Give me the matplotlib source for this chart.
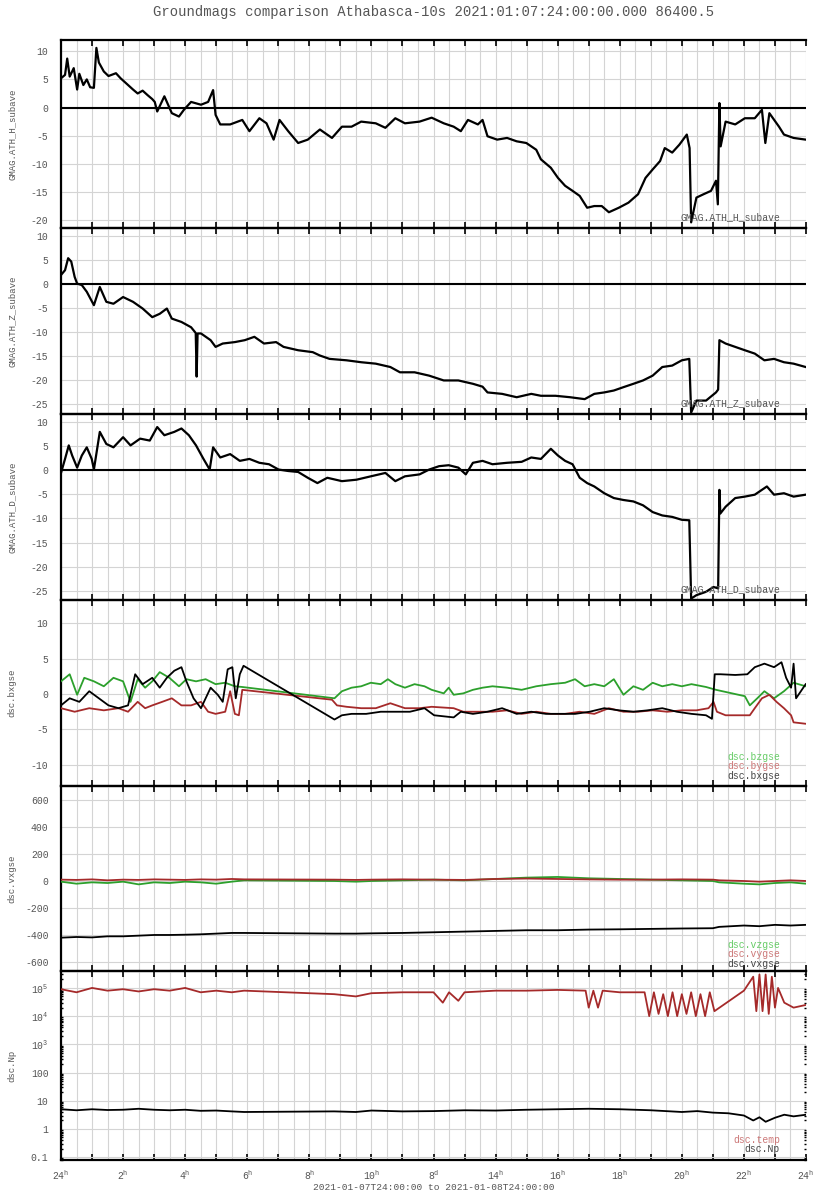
import matplotlib
matplotlib.use("Agg")
import matplotlib.pyplot as plt
from matplotlib.ticker import MultipleLocator, FixedLocator, FuncFormatter, NullFormatter, LogLocator
import numpy as np

plt.rcParams['font.family'] = ['Liberation Mono', 'DejaVu Sans Mono']
plt.rcParams['mathtext.fontset'] = 'custom'
plt.rcParams['mathtext.rm'] = 'Liberation Mono'
plt.rcParams['mathtext.it'] = 'Liberation Mono'

TXT = '#555555'

# ---------------- data (hours since 2021-01-08 00:00) ----------------
t_H = [0, 0.13, 0.2, 0.28, 0.41, 0.52, 0.59, 0.72, 0.83, 0.94, 1.06, 1.14, 1.22, 1.38, 1.53, 1.77,
       1.92, 2.16, 2.32, 2.47, 2.63, 2.79, 2.94, 3.02, 3.1, 3.33, 3.57, 3.8, 3.96, 4.19, 4.51, 4.74,
       4.9, 4.98, 5.13, 5.45, 5.84, 6.07, 6.39, 6.62, 6.85, 7.04, 7.32, 7.64, 7.95, 8.34, 8.73, 9.05,
       9.36, 9.67, 10.14, 10.45, 10.77, 11.08, 11.55, 11.94, 12.33, 12.65, 12.88, 13.11, 13.43, 13.58,
       13.74, 14.05, 14.37, 14.68, 14.99, 15.31, 15.46, 15.78, 16.01, 16.24, 16.48, 16.71, 16.95,
       17.18, 17.42, 17.65, 17.97, 18.28, 18.59, 18.83, 19.06, 19.3, 19.45, 19.69, 19.92, 20.16,
       20.25, 20.3, 20.47, 20.7, 20.94, 21.1, 21.16, 21.21, 21.25, 21.41, 21.72, 22.03, 22.35, 22.58,
       22.69, 22.82, 23.13, 23.29, 23.6, 23.99]
H = [5.2, 5.8, 8.7, 5.5, 7.0, 3.2, 6.0, 4.0, 5.0, 3.6, 3.5, 10.6, 8.0, 6.4, 5.6, 6.1,
     5.2, 4.0, 3.2, 2.5, 3.0, 2.2, 1.5, 1.0, -0.7, 2.0, -1.0, -1.6, -0.4, 1.0, 0.5, 1.0,
     3.1, -1.3, -3.0, -3.0, -2.2, -4.2, -1.9, -2.8, -5.7, -2.2, -4.2, -6.3, -5.7, -3.9, -5.4, -3.4,
     -3.4, -2.5, -2.8, -3.6, -1.9, -2.8, -2.5, -1.8, -2.8, -3.4, -4.2, -2.2, -3.0, -2.2,
     -5.1, -5.7, -5.4, -6.0, -6.3, -7.5, -9.2, -10.7, -12.5, -13.9, -14.8, -15.7, -17.8,
     -17.5, -17.5, -18.6, -17.8, -16.9, -15.4, -12.5, -11.0, -9.5, -7.2, -8.0, -6.6, -4.8,
     -7.2, -20.4, -16.0, -15.4, -14.8, -13.0, -17.2, 0.8, -6.9, -2.5, -3.0, -1.9, -1.9, -0.4,
     -6.3, -1.0, -3.4, -4.8, -5.4, -5.7]

t_Z = [0, 0.13, 0.23, 0.33, 0.44, 0.52, 0.67, 0.83, 1.06, 1.25, 1.46, 1.69, 2.0, 2.32, 2.63, 2.94,
       3.18, 3.41, 3.57, 3.88, 4.19, 4.34, 4.37, 4.4, 4.51, 4.82, 4.98, 5.21, 5.6, 5.92, 6.23, 6.54,
       6.93, 7.17, 7.64, 8.11, 8.34, 8.65, 9.2, 9.67, 10.14, 10.61, 10.92, 11.39, 11.86, 12.33, 12.8,
       13.27, 13.58, 13.74, 14.21, 14.68, 15.15, 15.46, 15.93, 16.4, 16.87, 17.18, 17.5, 17.81,
       18.12, 18.44, 18.75, 19.06, 19.37, 19.69, 20.0, 20.24, 20.3, 20.47, 20.78, 21.1, 21.17,
       21.21, 21.41, 21.72, 22.03, 22.35, 22.66, 22.97, 23.29, 23.6, 23.99]
Z = [1.9, 2.9, 5.4, 4.7, 1.5, 0.1, -0.2, -1.6, -4.4, -0.6, -3.7, -4.1, -2.7, -3.7, -5.1, -6.9,
     -6.2, -5.1, -7.2, -7.9, -9.0, -10.2, -19.3, -10.3, -10.3, -11.7, -13.1, -12.4, -12.1, -11.7,
     -11.0, -12.4, -12.1, -13.1, -13.8, -14.2, -14.9, -15.6, -15.9, -16.3, -16.6, -17.3, -18.4,
     -18.4, -19.1, -20.1, -20.1, -20.8, -21.4, -22.6, -22.9, -23.6, -22.9, -23.3, -23.3, -23.6,
     -24.0, -22.9, -22.6, -22.2, -21.5, -20.8, -20.1, -19.1, -17.3, -17.0, -15.9, -15.6, -26.8,
     -24.3, -24.3, -22.6, -22.0, -11.7, -12.4, -13.1, -13.8, -14.5, -15.9, -15.6, -16.3, -16.6,
     -17.3]

t_D = [0, 0.13, 0.25, 0.36, 0.52, 0.67, 0.83, 0.99, 1.06, 1.25, 1.46, 1.69, 2.0, 2.24, 2.55, 2.86,
       3.1, 3.33, 3.65, 3.88, 4.12, 4.35, 4.59, 4.79, 4.9, 5.13, 5.45, 5.76, 6.07, 6.39, 6.7, 7.01,
       7.32, 7.64, 7.95, 8.26, 8.58, 9.05, 9.52, 9.98, 10.45, 10.77, 11.08, 11.55, 11.86, 12.18,
       12.49, 12.8, 13.04, 13.27, 13.58, 13.9, 14.37, 14.84, 15.15, 15.46, 15.78, 16.01, 16.24,
       16.48, 16.71, 16.95, 17.18, 17.5, 17.81, 18.12, 18.44, 18.75, 19.06, 19.37, 19.69, 20.0,
       20.24, 20.3, 20.47, 20.78, 21.02, 21.17, 21.21, 21.24, 21.41, 21.72, 22.03, 22.35, 22.74,
       22.97, 23.29, 23.6, 23.99]
D = [-0.6, 2.3, 5.1, 3.0, 0.5, 3.0, 4.7, 2.3, 0.1, 7.9, 5.4, 4.7, 6.8, 5.1, 6.5, 6.1,
     8.9, 7.2, 7.9, 8.6, 7.2, 5.1, 2.3, 0.1, 4.7, 2.6, 3.3, 1.9, 2.3, 1.5, 1.2, 0.1,
     -0.2, -0.4, -1.6, -2.7, -1.6, -2.3, -2.0, -1.3, -0.6, -2.3, -1.3, -0.9, 0.1, 0.8,
     1.0, 0.5, -0.9, 1.5, 1.9, 1.2, 1.5, 1.7, 2.6, 2.3, 4.4, 3.0, 1.9,
     1.2, -1.6, -2.7, -3.4, -4.8, -5.8, -6.2, -6.5, -7.3, -8.7, -9.4, -9.7, -10.3,
     -10.4, -26.6, -25.9, -25.2, -24.2, -24.5, -4.1, -9.0, -7.6, -5.8, -5.5, -5.1, -3.4,
     -5.1, -4.8, -5.5, -5.1]

t_bx = [0, 0.28, 0.59, 0.91, 1.22, 1.53, 1.85, 2.16, 2.39, 2.63, 2.94, 3.18, 3.41, 3.65, 3.88, 4.04,
        4.27, 4.51, 4.82, 5.05, 5.21, 5.37, 5.52, 5.63, 5.76, 5.88, 8.81, 9.05, 9.36, 9.83, 10.3,
        10.77, 11.24, 11.71, 12.02, 12.65, 12.88, 13.27, 13.74, 14.21, 14.68, 15.15, 15.62, 16.09,
        16.56, 17.03, 17.5, 17.97, 18.44, 18.9, 19.37, 19.84, 20.31, 20.78, 20.97, 21.06, 21.25,
        21.72, 22.11, 22.35, 22.66, 22.97, 23.21, 23.36, 23.52, 23.6, 23.68, 23.99]
bx = [-1.6, -0.6, -1.1, 0.4, -0.6, -1.6, -2.0, -1.6, 2.8, 1.4, 2.3, 0.9, 2.3, 3.3, 3.8, 1.8,
      -0.6, -2.0, 0.9, -0.1, -1.1, 3.5, 3.8, -0.6, 2.8, 4.0, -3.6, -3.0, -2.8, -2.8, -2.5,
      -2.5, -2.5, -2.0, -3.0, -3.3, -2.5, -2.8, -2.5, -2.0, -2.8, -2.5, -2.8, -2.8,
      -2.8, -2.5, -2.0, -2.3, -2.5, -2.3, -2.0, -2.5, -2.8, -3.0, -3.5, 2.8, 2.8,
      2.7, 2.8, 3.8, 4.3, 3.8, 4.5, 2.3, 0.9, 4.3, -0.6, 1.4]

t_by = [0, 0.44, 0.91, 1.38, 1.85, 2.16, 2.47, 2.71, 2.94, 3.26, 3.57, 3.88, 4.19, 4.51, 4.74, 4.98,
        5.29, 5.45, 5.6, 5.73, 5.84, 8.73, 8.89, 9.2, 9.67, 10.14, 10.61, 11.08, 11.55, 11.94, 12.65,
        12.96, 13.43, 13.9, 14.37, 14.84, 15.31, 15.78, 16.24, 16.71, 17.18, 17.65, 18.12, 18.59,
        19.06, 19.53, 20.0, 20.47, 20.86, 21.02, 21.13, 21.41, 22.19, 22.35, 22.58, 22.82, 23.05,
        23.29, 23.52, 23.6, 23.99]
by = [-2.0, -2.5, -2.0, -2.3, -2.0, -2.5, -1.1, -2.0, -1.6, -1.1, -0.6, -1.6, -1.6, -1.1, -2.5, -2.8,
      -2.5, 0.4, -2.8, -3.0, 0.6, -0.8, -1.6, -1.8, -2.0, -2.0, -1.3, -2.0, -2.0, -1.8, -2.0,
      -2.5, -2.5, -2.5, -2.3, -2.8, -2.5, -2.8, -2.8, -2.5, -2.8, -2.0, -2.5, -2.5,
      -2.3, -2.5, -2.3, -2.3, -2.0, -1.1, -2.5, -3.0, -3.0, -2.0, -0.6, -0.1, -1.1,
      -2.0, -3.0, -4.0, -4.2]

t_bz = [0, 0.28, 0.52, 0.75, 1.06, 1.38, 1.69, 2.0, 2.24, 2.47, 2.71, 2.94, 3.18, 3.49, 3.8, 4.04,
        4.35, 4.66, 4.98, 5.29, 5.6, 5.84, 8.81, 9.05, 9.36, 9.67, 9.98, 10.3, 10.53, 10.77, 11.08,
        11.39, 11.71, 11.94, 12.33, 12.49, 12.65, 12.96, 13.27, 13.58, 13.9, 14.37, 14.84, 15.31,
        15.78, 16.24, 16.56, 16.87, 17.18, 17.5, 17.81, 18.12, 18.44, 18.75, 19.06, 19.37, 19.69,
        20.0, 20.31, 20.78, 21.1, 22.03, 22.19, 22.43, 22.66, 22.97, 23.29, 23.6, 23.99]
bz = [1.8, 2.8, -0.1, 2.3, 1.8, 1.1, 2.3, 1.8, -1.1, 2.1, 0.9, 1.8, 3.1, 2.3, 1.1, 2.1,
      1.8, 2.1, 1.4, 1.6, 1.1, 1.0, -0.6, 0.4, 0.9, 1.1, 1.6, 1.4, 2.1, 1.4, 0.9,
      1.4, 1.1, 0.6, 0.1, 0.9, -0.1, 0.1, 0.6, 0.9, 1.1, 0.9, 0.6, 1.1,
      1.4, 1.6, 2.1, 1.1, 1.4, 1.1, 2.1, -0.1, 1.1, 0.6, 1.6, 1.1, 1.4,
      1.1, 1.4, 1.0, 0.6, -0.3, -1.6, -0.6, 0.4, -0.6, 0.4, 1.6, 1.1]

t_v = [0, 0.5, 1.0, 1.5, 2.0, 2.5, 3.0, 3.5, 4.0, 4.5, 5.0, 5.5, 5.9, 8.8, 9.5, 10.0, 11.0, 12.0,
       13.0, 14.0, 15.0, 16.0, 17.0, 18.0, 19.0, 20.0, 21.0, 21.2, 22.0, 22.5, 23.0, 23.5, 24.0]
vx = [-420, -415, -418, -410, -410, -405, -400, -400, -398, -395, -390, -385, -385, -390, -390, -388,
      -385, -380, -375, -370, -365, -365, -360, -358, -355, -352, -350, -340, -330, -335, -325, -330, -325]
vy = [10, 8, 12, 5, 10, 8, 12, 10, 8, 12, 10, 15, 12, 10, 8, 10, 12, 10, 8, 15, 18, 15, 12, 10,
      10, 12, 10, 5, 0, -5, 0, 5, 0]
vz = [-5, -20, -10, -15, -5, -25, -10, -15, -5, -10, -20, -5, 5, 0, -5, 0, 5, 10, 5, 15, 25, 30,
      20, 15, 10, 5, 0, -10, -20, -25, -15, -10, -20]

t_np = [0, 0.5, 1, 1.5, 2, 2.5, 3, 3.5, 4, 4.5, 5, 5.5, 5.9, 8.8, 9.5, 10, 11, 12, 13, 14, 15, 16,
        17, 18, 19, 20, 20.5, 21, 21.5, 22, 22.3, 22.5, 22.7, 23, 23.3, 23.6, 24]
Np = [5.0, 4.6, 5.0, 4.7, 4.8, 5.2, 4.8, 4.6, 4.8, 4.4, 4.5, 4.2, 4.0, 4.2, 4.0, 4.5, 4.2, 4.3, 4.6, 4.5,
      4.8, 5.0, 5.2, 5.0, 4.6, 4.0, 4.3, 3.8, 3.6, 3.0, 2.0, 2.6, 1.8, 2.5, 3.2, 2.8, 3.2]
t_temp = [0, 0.5, 1, 1.5, 2, 2.5, 3, 3.5, 4, 4.5, 5, 5.5, 5.9, 8.8, 9.5, 10, 11, 12, 12.3, 12.5, 12.8,
          13.0, 14, 15, 16, 16.9, 17.0, 17.15, 17.3, 17.45, 18, 18.8, 18.95, 19.1, 19.25, 19.4, 19.55,
          19.7, 19.85, 20.0, 20.15, 20.3, 20.45, 20.6, 20.75, 20.9, 21.05, 22, 22.3, 22.4, 22.5, 22.6,
          22.7, 22.8, 22.9, 23.0, 23.1, 23.3, 23.6, 24]
temp = [9e4, 7e4, 1e5, 8e4, 9e4, 7.5e4, 9e4, 8e4, 1e5, 7e4, 8e4, 7e4, 8e4, 6e4, 5e4, 6.5e4, 7e4, 7e4,
        3e4, 7e4, 3.5e4, 7e4, 8e4, 8e4, 8.5e4, 8e4, 2e4, 8e4, 2e4, 8e4, 7e4, 7e4, 1e4, 7e4, 1.2e4,
        6e4, 1e4, 7e4, 1e4, 6e4, 1.2e4, 7e4, 1e4, 6e4, 1e4, 7e4, 1.5e4, 8e4, 2.5e5, 1.5e4, 3e5,
        1.5e4, 3e5, 1.2e4, 2.5e5, 2e4, 1e5, 3e4, 2e4, 2.5e4]

# ---------------- layout ----------------
W, Hpx = 824, 1200
fig = plt.figure(figsize=(W / 100, Hpx / 100), dpi=100)
x0, x1 = 61, 806
bounds = [(40, 228), (228, 414), (414, 600), (600, 786), (786, 971), (971, 1160)]
axes = []
for (top, bot) in bounds:
    ax = fig.add_axes([x0 / W, 1 - bot / Hpx, (x1 - x0) / W, (bot - top) / Hpx])
    axes.append(ax)

hour_labels = {0: '24$^h$', 12: '8$^d$', 24: '24$^h$'}


def fmt_hour(v, pos):
    h = int(round(v))
    if h % 2:
        return ''
    return hour_labels.get(h, '%d$^h$' % h)


ylims = [(-21.4, 12), (-27.1, 11.7), (-26.9, 11.6), (-13.0, 13.3), (-667, 704), (10 ** -1.1, 10 ** 5.6)]
yticks = [[-20, -15, -10, -5, 0, 5, 10],
          [-25, -20, -15, -10, -5, 0, 5, 10],
          [-25, -20, -15, -10, -5, 0, 5, 10],
          [-10, -5, 0, 5, 10],
          [-600, -400, -200, 0, 200, 400, 600],
          [0.1, 1, 10, 100, 1e3, 1e4, 1e5]]
ytickmarks = [[-15], [-15, -20], [-10, -20], [10, -5], [200, -200], None]
ylabels = ['GMAG.ATH_H_subave', 'GMAG.ATH_Z_subave', 'GMAG.ATH_D_subave', 'dsc.bxgse', 'dsc.vxgse', 'dsc.Np']

for i, ax in enumerate(axes):
    ax.set_xlim(0, 24)
    if i == 5:
        ax.set_yscale('log')
    ax.set_ylim(*ylims[i])
    ax.yaxis.set_major_locator(FixedLocator(yticks[i]))
    if i == 5:
        ax.yaxis.set_minor_locator(LogLocator(base=10, subs=(2, 3, 4, 5, 6, 7, 8, 9), numticks=20))
        ax.yaxis.set_minor_formatter(NullFormatter())
        ax.yaxis.set_major_formatter(FuncFormatter(
            lambda v, p: {1e5: '10$^5$', 1e4: '10$^4$', 1e3: '10$^3$'}.get(v, ('%g' % v))))
    else:
        ax.yaxis.set_minor_locator(FixedLocator(ytickmarks[i]))
        ax.yaxis.set_major_formatter(FuncFormatter(lambda v, p: '%d' % v))
    ax.xaxis.set_major_locator(MultipleLocator(1))
    ax.xaxis.set_minor_locator(MultipleLocator(0.5))
    if i == 5:
        ax.xaxis.set_major_formatter(FuncFormatter(fmt_hour))
    else:
        ax.xaxis.set_major_formatter(NullFormatter())
    ax.grid(True, which='both', axis='x', color='#d4d4d4', lw=0.8)
    ax.grid(True, which='major', axis='y', color='#d4d4d4', lw=0.8)
    ax.set_axisbelow(True)
    ax.tick_params(axis='x', which='major', direction='in', length=4, width=1.2, top=True, bottom=True,
                   colors='black', labelcolor=TXT, labelsize=7, pad=6)
    ax.tick_params(axis='x', which='minor', length=0)
    ax.tick_params(axis='y', which='major', direction='in', length=0, left=True, right=True,
                   labelcolor=TXT, labelsize=7, pad=9)
    ax.tick_params(axis='y', which='minor', direction='in', length=3 if i < 5 else 1.2, width=1,
                   left=True, right=True, colors='black')
    for s in ('top', 'bottom', 'left'):
        ax.spines[s].set_linewidth(1.6)
        ax.spines[s].set_color('black')
    ax.spines['right'].set_visible(False)
    ax.set_ylabel(ylabels[i], color=TXT, fontsize=6.5)
    ax.yaxis.set_label_coords(-0.06, 0.5)
    ax.patch.set_alpha(0)

# panels 1-3: ground magnetometer
for ax, t, y in [(axes[0], t_H, H), (axes[1], t_Z, Z), (axes[2], t_D, D)]:
    ax.axhline(0, color='black', lw=1.5, zorder=1)
    ax.plot(t, y, color='black', lw=1.6, zorder=3)

for k, lab in enumerate(['GMAG.ATH_H_subave', 'GMAG.ATH_Z_subave', 'GMAG.ATH_D_subave']):
    axes[k].text(0.965, 0.03, lab, transform=axes[k].transAxes, ha='right', va='bottom',
                 color=TXT, fontsize=7)

GREEN = '#2ca02c'
RED = '#a52a2a'
LW = 1.3
# panel 4: magnetic field
axes[3].plot(t_bz, bz, color=GREEN, lw=LW, zorder=3)
axes[3].plot(t_by, by, color=RED, lw=LW, zorder=3)
axes[3].plot(t_bx, bx, color='black', lw=LW, zorder=4)
for k, (lab, c) in enumerate([('dsc.bzgse', '#66cc66'), ('dsc.bygse', '#cc7777'), ('dsc.bxgse', '#444444')]):
    axes[3].text(0.965, 0.155 - k * 0.05, lab, transform=axes[3].transAxes, ha='right', va='center',
                 color=c, fontsize=7)

# panel 5: velocity
axes[4].plot(t_v, vz, color=GREEN, lw=LW, zorder=3)
axes[4].plot(t_v, vy, color=RED, lw=LW, zorder=3)
axes[4].plot(t_v, vx, color='black', lw=LW, zorder=4)
for k, (lab, c) in enumerate([('dsc.vzgse', '#66cc66'), ('dsc.vygse', '#cc7777'), ('dsc.vxgse', '#444444')]):
    axes[4].text(0.965, 0.14 - k * 0.05, lab, transform=axes[4].transAxes, ha='right', va='center',
                 color=c, fontsize=7)

# panel 6: density / temperature
axes[5].plot(t_temp, temp, color=RED, lw=LW, zorder=3)
axes[5].plot(t_np, Np, color='black', lw=LW, zorder=4)
axes[5].text(0.965, 0.105, 'dsc.temp', transform=axes[5].transAxes, ha='right', va='center',
             color='#cc7777', fontsize=7)
axes[5].text(0.965, 0.058, 'dsc.Np', transform=axes[5].transAxes, ha='right', va='center',
             color='#444444', fontsize=7)

xc = (x0 + x1) / 2 / W
fig.text(xc, 1 - 12 / Hpx, 'Groundmags comparison Athabasca-10s 2021:01:07:24:00:00.000 86400.5',
         ha='center', va='center', color=TXT, fontsize=10)
fig.text(xc, 1 - 1187 / Hpx, '2021-01-07T24:00:00 to 2021-01-08T24:00:00',
         ha='center', va='center', color=TXT, fontsize=6.8)

fig.savefig('out.png', dpi=100)
